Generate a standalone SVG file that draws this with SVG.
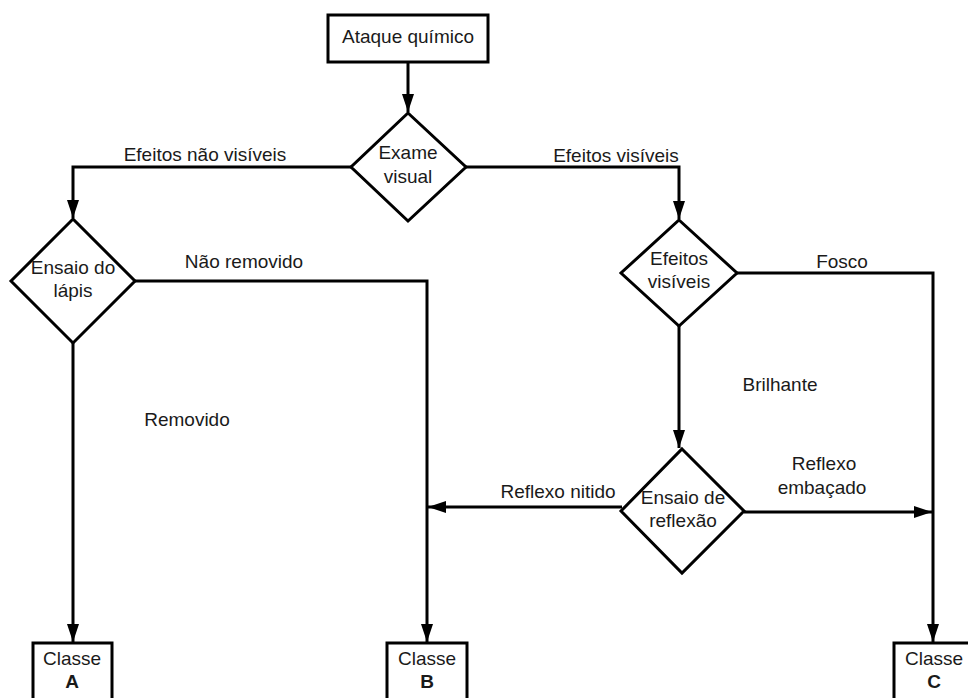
<svg xmlns="http://www.w3.org/2000/svg" width="968" height="698" viewBox="0 0 968 698">
<style>
.shape{fill:#fff;stroke:#000;stroke-width:3}
.edge{fill:none;stroke:#000;stroke-width:3}
text{font-family:"Liberation Sans",Arial,sans-serif;font-size:19px;fill:#1a1a1a;text-anchor:middle}
.b{font-weight:bold}
</style>
<defs>
<marker id="arr" markerUnits="userSpaceOnUse" markerWidth="18" markerHeight="12" refX="18" refY="6" orient="auto">
<path d="M0,0 L18,6 L0,12 z" fill="#000"/>
</marker>
</defs>
<rect width="968" height="698" fill="#fff"/>
<g id="connectors">
<path class="edge" d="M408,62 V112" marker-end="url(#arr)"/>
<path class="edge" d="M351,167 H73 V218" marker-end="url(#arr)"/>
<path class="edge" d="M466,167 H679 V219" marker-end="url(#arr)"/>
<path class="edge" d="M135,281 H427 V642" marker-end="url(#arr)"/>
<path class="edge" d="M73,343 V642" marker-end="url(#arr)"/>
<path class="edge" d="M737,273 H933 V642" marker-end="url(#arr)"/>
<path class="edge" d="M679,326 V448" marker-end="url(#arr)"/>
<path class="edge" d="M622,507 H428" marker-end="url(#arr)"/>
<path class="edge" d="M744,512 H932" marker-end="url(#arr)"/>
</g>
<g id="n-ataque">
<rect class="shape" x="328" y="15" width="160" height="47"/>
<text x="408" y="43">Ataque químico</text>
</g>
<g id="n-exame">
<path class="shape" d="M408,113 L466,167 L408,221 L351,167 z"/>
<text x="408" y="159">Exame</text>
<text x="408" y="183">visual</text>
</g>
<g id="n-lapis">
<path class="shape" d="M73,219 L135,281 L73,343 L11,281 z"/>
<text x="73" y="274">Ensaio do</text>
<text x="73" y="297">lápis</text>
</g>
<g id="n-efeitos">
<path class="shape" d="M679,220 L737,273 L679,326 L621,273 z"/>
<text x="679" y="265">Efeitos</text>
<text x="679" y="288">visíveis</text>
</g>
<g id="n-reflexao">
<path class="shape" d="M682,449 L744,511 L682,573 L621,511 z"/>
<text x="683" y="504">Ensaio de</text>
<text x="683" y="527">reflexão</text>
</g>
<g id="n-classeA">
<rect class="shape" x="33" y="643" width="79" height="70"/>
<text x="72" y="665">Classe</text>
<text class="b" x="72" y="688">A</text>
</g>
<g id="n-classeB">
<rect class="shape" x="387" y="643" width="80" height="70"/>
<text x="427" y="665">Classe</text>
<text class="b" x="427" y="688">B</text>
</g>
<g id="n-classeC">
<rect class="shape" x="894" y="643" width="80" height="70"/>
<text x="934" y="665">Classe</text>
<text class="b" x="934" y="688">C</text>
</g>
<g id="labels">
<text x="205" y="161">Efeitos não visíveis</text>
<text x="616" y="162">Efeitos visíveis</text>
<text x="244" y="268">Não removido</text>
<text x="842" y="268">Fosco</text>
<text x="780" y="391">Brilhante</text>
<text x="187" y="426">Removido</text>
<text x="558" y="498">Reflexo nitido</text>
<text x="824" y="470">Reflexo</text>
<text x="822" y="494">embaçado</text>
</g>
</svg>
